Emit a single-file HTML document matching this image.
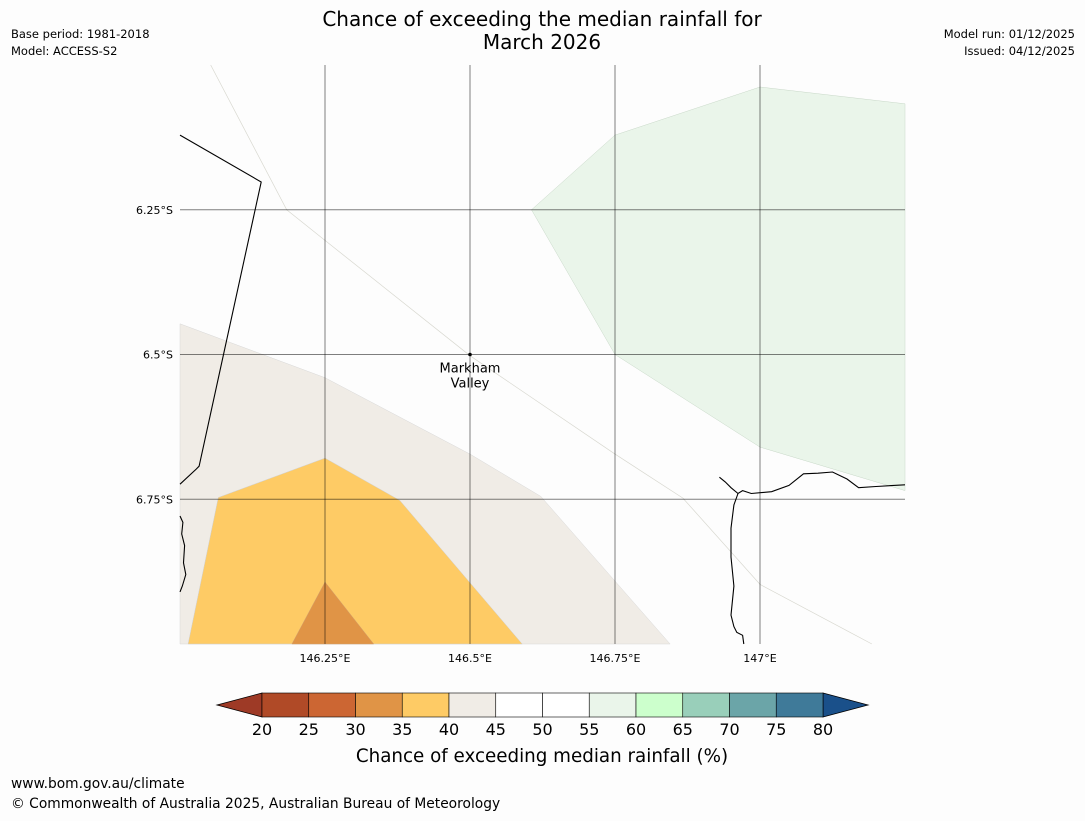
<!DOCTYPE html>
<html><head><meta charset="utf-8">
<style>
body{margin:0;background:#fdfdfd;width:1085px;height:816px;overflow:hidden;font-family:"Liberation Sans","DejaVu Sans",sans-serif;}
svg text{font-family:"DejaVu Sans","Liberation Sans",sans-serif;}
</style></head>
<body>
<svg id="chart" width="1085" height="816" viewBox="0 0 1085 816" xmlns="http://www.w3.org/2000/svg">
<rect width="1085" height="816" fill="#fdfdfd"/>
<text x="542" y="26" font-size="20" text-anchor="middle" fill="#000">Chance of exceeding the median rainfall for</text>
<text x="542" y="49" font-size="20" text-anchor="middle" fill="#000">March 2026</text>
<text x="11" y="38" font-size="11.5">Base period: 1981-2018</text>
<text x="11" y="55" font-size="11.5">Model: ACCESS-S2</text>
<text x="1075" y="38" font-size="11.5" text-anchor="end">Model run: 01/12/2025</text>
<text x="1075" y="55" font-size="11.5" text-anchor="end">Issued: 04/12/2025</text>
<g id="map"></g>
<g id="cbar"></g>
<text x="542" y="762" font-size="18.3" text-anchor="middle">Chance of exceeding median rainfall (%)</text>
<text x="11" y="788" font-size="13.8">www.bom.gov.au/climate</text>
<text x="11" y="808" font-size="13.8">© Commonwealth of Australia 2025, Australian Bureau of Meteorology</text>
</svg>
<script>
const NS='http://www.w3.org/2000/svg';
const lonTicks=[146.25,146.5,146.75,147];
const lonLabels=['146.25°E','146.5°E','146.75°E','147°E'];
const latTicks=[-6.25,-6.5,-6.75];
const latLabels=['6.25°S','6.5°S','6.75°S'];
const cbLevels=[20,25,30,35,40,45,50,55,60,65,70,75,80];
const cbColors=['#b04a27','#cc6633','#e09446','#fecb65','#f0ece6','#ffffff','#ffffff','#eaf5ea','#ccffcc','#99cfba','#6ba5a8','#3f7a99'];
const beigePoly=[[146,-6.447],[146.25,-6.54],[146.5,-6.672],[146.622,-6.745],[146.845,-7.0],[146,-7.0]];
const orangePoly=[[146.014,-7.0],[146.066,-6.747],[146.25,-6.679],[146.379,-6.752],[146.59,-7.0]];
const darkPoly=[[146.193,-7.0],[146.25,-6.893],[146.334,-7.0]];
const greenPoly=[[146.606,-6.25],[146.75,-6.121],[147,-6.038],[147.25,-6.067],[147.25,-6.735],[147,-6.66],[146.75,-6.5]];
const faintLine=[[146.053,-6.0],[146.184,-6.25],[146.25,-6.303],[146.5,-6.502],[146.75,-6.672],[146.867,-6.748],[147,-6.897],[147.193,-7.0]];
const border=[[146,-6.121],[146.14,-6.202],[146.033,-6.693],[146.028,-6.698],[146,-6.724]];
const coastW=[[146,-6.779],[146.005,-6.79],[146.003,-6.81],[146.008,-6.83],[146.006,-6.86],[146.01,-6.88],[146.004,-6.9],[146.0,-6.91]];
const coastE=[[146.93,-6.712],[146.94,-6.72],[146.95,-6.73],[146.962,-6.74],[146.97,-6.735],[146.985,-6.74],[147.02,-6.737],[147.05,-6.726],[147.075,-6.706],[147.1,-6.705],[147.125,-6.703],[147.15,-6.715],[147.17,-6.73],[147.2,-6.728],[147.25,-6.725]];
const coastS=[[146.962,-6.74],[146.955,-6.76],[146.95,-6.8],[146.95,-6.85],[146.955,-6.9],[146.95,-6.95],[146.955,-6.97],[146.96,-6.98],[146.97,-6.985],[146.972,-7.0]];
const X0=180,X1=905,Y0=65,Y1=644,LON0=146,LON1=147.25,LAT0=-6,LAT1=-7;
const xs=v=>X0+(v-LON0)/(LON1-LON0)*(X1-X0);
const ys=v=>Y0+(v-LAT0)/(LAT1-LAT0)*(Y1-Y0);
const pts=a=>a.map(p=>xs(p[0]).toFixed(1)+','+ys(p[1]).toFixed(1)).join(' ');
const map=document.getElementById('map');
function mk(tag,attrs,parent){const e=document.createElementNS(NS,tag);for(const k in attrs)e.setAttribute(k,attrs[k]);parent.appendChild(e);return e;}
let e;
e=mk('polygon',{points:pts(beigePoly),fill:'#f0ece6',stroke:'#d8d8d8','stroke-width':0.5},map);


e=mk('polygon',{points:pts(orangePoly),fill:'#fecb65',stroke:'#d0d0d0','stroke-width':0.5},map);


e=mk('polygon',{points:pts(darkPoly),fill:'#e09446',stroke:'#d0a070','stroke-width':0.5},map);


e=mk('polygon',{points:pts(greenPoly),fill:'#eaf5ea',stroke:'#c8d8c8','stroke-width':0.5},map);


e=mk('polyline',{points:pts(faintLine),fill:'none',stroke:'#d8d8d0','stroke-width':0.7},map);


lonTicks.forEach((v,i)=>{
 let l=mk('line',{x1:xs(v),x2:xs(v),y1:Y0,y2:Y1,stroke:'#000','stroke-opacity':0.5,'stroke-width':1},map);
 
 
 let t=mk('text',{x:xs(v),y:Y1+18,'font-size':11,'text-anchor':'middle'},map);t.textContent=lonLabels[i];
 
 
});
latTicks.forEach((v,i)=>{
 let l=mk('line',{x1:X0,x2:X1,y1:ys(v),y2:ys(v),stroke:'#000','stroke-opacity':0.5,'stroke-width':1},map);
 
 
 let t=mk('text',{x:X0-7,y:ys(v)+4,'font-size':11,'text-anchor':'end'},map);t.textContent=latLabels[i];
 
 
});
[border,coastW,coastE,coastS].forEach(a=>{
 let p=mk('polyline',{points:pts(a),fill:'none',stroke:'#000','stroke-width':1.1},map);
 
 
});
e=mk('circle',{cx:xs(146.5),cy:ys(-6.5),r:1.8,fill:'#000'},map);


e=mk('text',{x:xs(146.5),y:ys(-6.5)+18,'font-size':13,'text-anchor':'middle'},map);e.textContent='Markham';


e=mk('text',{x:xs(146.5),y:ys(-6.5)+33,'font-size':13,'text-anchor':'middle'},map);e.textContent='Valley';


const cb=document.getElementById('cbar');
const C0=262,C1=823,CY0=693,CY1=717;
const cx=v=>C0+(v-cbLevels[0])/(cbLevels[cbLevels.length-1]-cbLevels[0])*(C1-C0);
e=mk('polygon',{points:`${C0},${CY0} 217,${(CY0+CY1)/2} ${C0},${CY1}`,fill:'#9e3a26',stroke:'#000','stroke-width':0.8},cb);


e=mk('polygon',{points:`${C1},${CY0} 868,${(CY0+CY1)/2} ${C1},${CY1}`,fill:'#1a508a',stroke:'#000','stroke-width':0.8},cb);


cbColors.forEach((c,i)=>{
 let r=mk('rect',{x:cx(cbLevels[i]),y:CY0,width:cx(cbLevels[i+1])-cx(cbLevels[i]),height:CY1-CY0,fill:c,stroke:'#000','stroke-width':0.6},cb);
 
 
});
cbLevels.forEach(v=>{
 let t=mk('text',{x:cx(v),y:735,'font-size':16,'text-anchor':'middle'},cb);t.textContent=v;
 
 
});
</script>
</body></html>
